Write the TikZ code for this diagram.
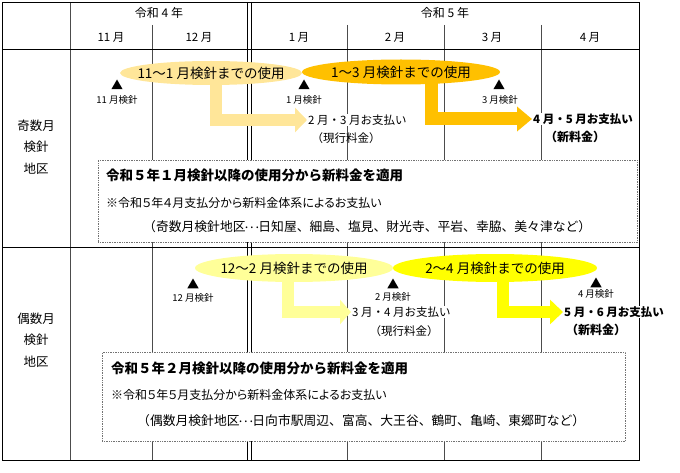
\documentclass[tikz,border=0pt]{standalone}
\usepackage{fontspec}
\usetikzlibrary{shapes.geometric,arrows.meta}
\newfontfamily\jp{Noto Sans CJK JP}
\newfontfamily\jpp{Noto Sans CJK JP}[RawFeature=+palt]
\newcommand{\midellipsis}{\makebox[1em][c]{\raisebox{.3em}{.\kern.14em.\kern.14em.}}}
\definecolor{lorange}{HTML}{FFE699}
\definecolor{orangeB}{HTML}{FFC000}
\definecolor{lyellow}{HTML}{FFFF99}
\definecolor{yellowB}{HTML}{FFFF00}
\tikzset{
  fs/.style={font=\jp\fontsize{#1}{#1}\selectfont},
  gridline/.style={draw=black!70, line width=0.8pt},
  boldline/.style={draw=black, line width=0.9pt},
  usage/.style={ellipse, inner sep=0pt},
  usagetext/.style={fs=13.5, inner sep=0pt},
  meter/.style={regular polygon, regular polygon sides=3, fill=black, inner sep=0pt, minimum size=13pt},
  meterlbl/.style={fs=9.5, inner sep=0pt},
  paylbl/.style={fs=11.5, inner sep=1pt, anchor=west},
  bendarrow/.style={line width=#1, line join=miter},
  dotbox/.style={draw=black!55, densely dotted, line width=0.7pt, fill=white, anchor=north west, inner sep=0pt},
  boxtext/.style={anchor=west, inner sep=0pt}
}
\begin{document}
\begin{tikzpicture}[x=1pt,y=-1pt]
\useasboundingbox (0,0) rectangle (680,473);
% grid
\draw[gridline] (152,25) -- (152,460);
\draw[gridline] (347,25) -- (347,460);
\draw[gridline] (444,25) -- (444,460);
\draw[gridline] (541,25) -- (541,460);
\draw[gridline] (70,2) -- (70,460);
\draw[boldline] (2,49) -- (639,49);
\draw[boldline] (2,247) -- (639,247);
\draw[boldline] (247,2) -- (247,460);
\draw[boldline] (251,2) -- (251,460);
\draw[boldline] (2,2) rectangle (639,460);
% header
\node[fs=12] (h4) at (159,13) {令和 4 年};
\node[fs=12] (h5) at (445,13) {令和 5 年};
\node[fs=11.5] (m11) at (111,37) {11 月};
\node[fs=11.5] (m12) at (199,37) {12 月};
\node[fs=11.5] (m1) at (299,37) {1 月};
\node[fs=11.5] (m2) at (395,37) {2 月};
\node[fs=11.5] (m3) at (492,37) {3 月};
\node[fs=11.5] (m4) at (590,37) {4 月};
% left labels
\node[fs=12.5, align=center, inner sep=0pt] (odd) at (36,147) {奇数月\\[9pt]検針\\[9pt]地区};
\node[fs=12.5, align=center, inner sep=0pt] (even) at (36,340) {偶数月\\[9pt]検針\\[9pt]地区};
% dotted boxes
\node[dotbox, minimum width=539pt, minimum height=82pt] (b1) at (98,160) {};
\node[dotbox, minimum width=523pt, minimum height=89pt] (b2) at (102,352) {};
\node[boxtext, font=\jp\bfseries\fontsize{13.5}{14}\selectfont] (b1a) at (106,175) {令和５年１月検針以降の使用分から新料金を適用};
\node[boxtext, font=\jpp\fontsize{12}{13}\selectfont] (b1b) at (106,203) {※令和５年４月支払分から新料金体系によるお支払い};
\node[boxtext, font=\jp\fontsize{12.8}{13}\selectfont] (b1c) at (143,227) {（奇数月検針地区\midellipsis 日知屋、細島、塩見、財光寺、平岩、幸脇、美々津など）};
\node[boxtext, font=\jp\bfseries\fontsize{13.5}{14}\selectfont] (b2a) at (111,368) {令和５年２月検針以降の使用分から新料金を適用};
\node[boxtext, font=\jpp\fontsize{12}{13}\selectfont] (b2b) at (111,395) {※令和５年５月支払分から新料金体系によるお支払い};
\node[boxtext, font=\jp\fontsize{12.8}{13}\selectfont] (b2c) at (137,421) {（偶数月検針地区\midellipsis 日向市駅周辺、富高、大王谷、鶴町、亀崎、東郷町など）};
% payment labels
\node[paylbl, fill=white] (p1) at (307,120) {2 月・3 月お支払い};
\node[fs=11.5, inner sep=0pt] (p1b) at (346,138) {（現行料金）};
\node[paylbl, fill=white, font=\jp\bfseries\fontsize{11.5}{12}\selectfont] (p2) at (532,119) {4 月・5 月お支払い};
\node[fill=white, inner sep=1pt, font=\jp\bfseries\fontsize{12}{13}\selectfont] (p2b) at (575,137) {（新料金）};
\node[paylbl, fill=white] (p3) at (351,312) {3 月・4 月お支払い};
\node[fs=11.5, inner sep=0pt] (p3b) at (404,331) {（現行料金）};
\node[paylbl, fill=white, font=\jp\bfseries\fontsize{11.5}{12}\selectfont] (p4) at (563,312) {5 月・6 月お支払い};
\node[fill=white, inner sep=1pt, font=\jp\bfseries\fontsize{12}{13}\selectfont] (p4b) at (596,330) {（新料金）};
% usage ellipse centres
\coordinate (e1c) at (211,73);
\coordinate (e2c) at (401,72);
\coordinate (e3c) at (294,268);
\coordinate (e4c) at (495,268);
% bent arrows
\draw[bendarrow=12pt, lorange, -{Triangle[length=12pt,width=24pt]}] ([xshift=5pt]e1c) |- (p1.west);
\draw[bendarrow=13pt, orangeB, -{Triangle[length=15pt,width=24pt]}] ([xshift=30pt]e2c) |- (p2.west);
\draw[bendarrow=12pt, lyellow, -{Triangle[length=11pt,width=24pt]}] ([xshift=-6.5pt]e3c) |- (p3.west);
\draw[bendarrow=12pt, yellowB, -{Triangle[length=13pt,width=24pt]}] ([xshift=7.5pt]e4c) |- (p4.west);
% ellipses
\node[usage, fill=lorange, minimum width=182pt, minimum height=24pt] (e1) at (e1c) {};
\node[usage, fill=orangeB, minimum width=198pt, minimum height=25pt] (e2) at (e2c) {};
\node[usage, fill=lyellow, minimum width=198pt, minimum height=28pt] (e3) at (e3c) {};
\node[usage, fill=yellowB, minimum width=204pt, minimum height=28pt] (e4) at (e4c) {};
\node[usagetext] (e1t) at (e1.center) {11～1 月検針までの使用};
\node[usagetext] (e2t) at (e2.center) {1～3 月検針までの使用};
\node[usagetext] (e3t) at (e3.center) {12～2 月検針までの使用};
\node[usagetext] (e4t) at (e4.center) {2～4 月検針までの使用};
% meter readings
\node[meter] (t11) at (117,86) {};
\node[meterlbl] (l11) at (117,100) {11 月検針};
\node[meter] (t1) at (304,86) {};
\node[meterlbl] (l1) at (304,100) {1 月検針};
\node[meter] (t3) at (499,86) {};
\node[meterlbl] (l3) at (500,100) {3 月検針};
\node[meter] (t12) at (193,285) {};
\node[meterlbl] (l12) at (193,298) {12 月検針};
\node[meter] (t2) at (393,285) {};
\node[meterlbl] (l2) at (393,297) {2 月検針};
\node[meter] (t4) at (596,284) {};
\node[meterlbl] (l4) at (596,294) {4 月検針};
\end{tikzpicture}
\end{document}
